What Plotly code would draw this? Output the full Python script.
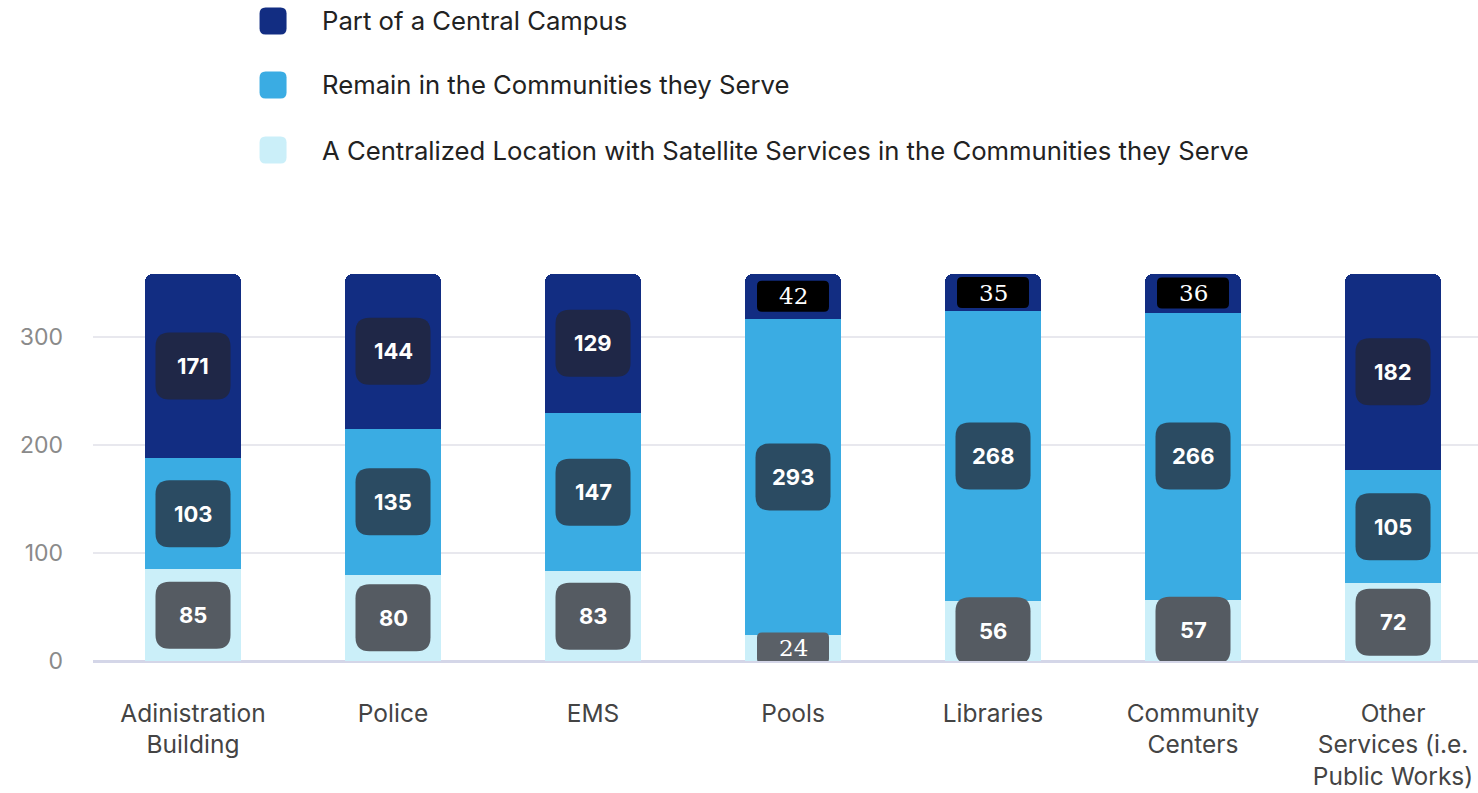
import plotly.graph_objects as go

categories = ["Adinistration<br>Building", "Police", "EMS", "Pools", "Libraries",
              "Community<br>Centers", "Other<br>Services (i.e.<br>Public Works)"]
series_names = ["A Centralized Location with Satellite Services in the Communities they Serve",
                "Remain in the Communities they Serve",
                "Part of a Central Campus"]
centralized_satellite = [85, 80, 83, 24, 56, 57, 72]
remain_in_communities = [103, 135, 147, 293, 268, 266, 105]
central_campus = [171, 144, 129, 42, 35, 36, 182]
y_ticks = [0, 100, 200, 300]

series_values = [centralized_satellite, remain_in_communities, central_campus]
bar_colors = ["#cbeff9", "#3aace3", "#122d82"]
label_colors = ["#555b62", "#2b4b62", "#1f2747"]

fig = go.Figure()
xs = list(range(len(categories)))
for name, vals, col in zip(series_names, series_values, bar_colors):
    fig.add_trace(go.Bar(x=xs, y=vals, name=name, marker=dict(color=col, line=dict(width=0)),
                         width=0.48, showlegend=False, hoverinfo="skip"))


def rrect(w, h, r):
    x0, x1, y0, y1 = -w / 2, w / 2, -h / 2, h / 2
    return (f"M {x0+r},{y0} L {x1-r},{y0} Q {x1},{y0} {x1},{y0+r} L {x1},{y1-r} "
            f"Q {x1},{y1} {x1-r},{y1} L {x0+r},{y1} Q {x0},{y1} {x0},{y1-r} "
            f"L {x0},{y0+r} Q {x0},{y0} {x0+r},{y0} Z")


shapes = []
annotations = []
for i in xs:
    base = 0
    for s, vals in enumerate(series_values):
        v = vals[i]
        mid = base + v / 2
        base += v
        small = v < 50
        if small:
            fill = "#000000" if s == 2 else "#5a6067"
            path = rrect(72, 31, 5)
            font = dict(family="DejaVu Serif", size=23, color="white")
        else:
            fill = label_colors[s]
            path = rrect(75, 67, 14)
            font = dict(family="Inter", size=22, color="white", weight="bold")
        shapes.append(dict(type="path", xref="x", yref="y", xsizemode="pixel", ysizemode="pixel",
                           xanchor=i, yanchor=mid, path=path, fillcolor=fill,
                           line=dict(width=0), layer="above"))
        annotations.append(dict(x=i, y=mid, xref="x", yref="y", text=str(v), showarrow=False,
                                font=font, xanchor="center", yanchor="middle"))

# legend (manual)
legend_order = [2, 1, 0]
legend_y = [1.5610, 1.4049, 1.2463]
for k, s in enumerate(legend_order):
    shapes.append(dict(type="path", xref="paper", yref="paper", xsizemode="pixel", ysizemode="pixel",
                       xanchor=0.1300, yanchor=legend_y[k], path=rrect(27, 27, 6),
                       fillcolor=bar_colors[s], line=dict(width=0)))
    annotations.append(dict(x=0.1639, y=legend_y[k], xref="paper", yref="paper",
                            text=series_names[s], showarrow=False, xanchor="left", yanchor="middle",
                            font=dict(family="Inter", size=25.7, color="#222222")))

fig.update_layout(
    width=1478, height=793,
    margin=dict(l=93, r=0, t=251, b=132),
    paper_bgcolor="white", plot_bgcolor="white",
    barmode="stack", barcornerradius=8,
    shapes=shapes, annotations=annotations,
    xaxis=dict(range=[-0.5, 6.425], tickvals=xs, ticktext=categories, showgrid=False,
               zeroline=False, showline=False, ticks="", ticklabelstandoff=35,
               tickfont=dict(family="Inter", size=24.5, color="#444444")),
    yaxis=dict(range=[0, 380], tickvals=y_ticks, showgrid=True, gridcolor="#e8e8ee", gridwidth=1.5,
               zeroline=True, zerolinecolor="#d4d6e8", zerolinewidth=2.5, showline=False, ticks="",
               ticklabelstandoff=29, tickfont=dict(family="Inter", size=23, color="#8a8a8a")),
)

fig.write_html("out.html", config={"displayModeBar": False},
               post_script="document.body.style.margin='0';document.body.style.overflow='hidden';")
